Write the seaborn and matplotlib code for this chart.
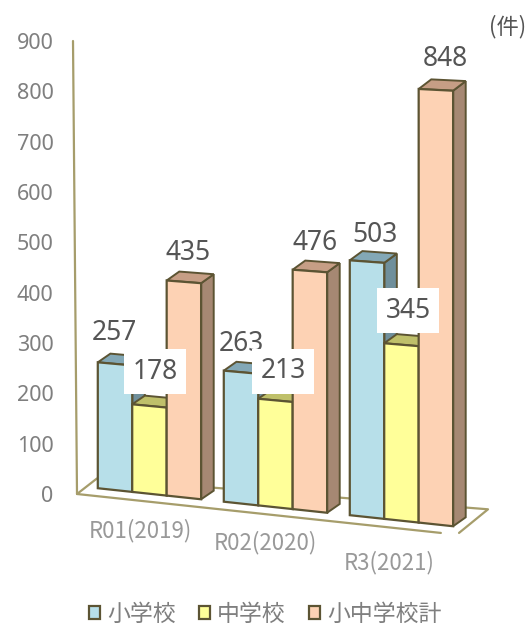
import matplotlib
matplotlib.use("Agg")
import matplotlib.pyplot as plt
import matplotlib.transforms as mtransforms
from matplotlib.patches import Polygon
import numpy as np
import pandas as pd
import seaborn as sns

years = ["R01(2019)", "R02(2020)", "R3(2021)"]
series = ["小学校", "中学校", "小中学校計"]
elementary = [257, 263, 503]
junior_high = [178, 213, 345]
total = [435, 476, 848]

front_colors = ["#b7dfe9", "#ffff99", "#fdd2b4"]
top_colors = ["#83a8b6", "#bfc06a", "#c69e85"]
side_colors = ["#6f8f9b", "#a9a95c", "#a68873"]
edge_color = "#5c5433"
floor_color = "#a69d6b"

# label offsets from the top of each bar, in pixels
label_offsets = [
    [(-1, 31), (0, 28), (8, 27)],
    [(5.5, 34), (7.5, 29), (6.5, 34)],
    [(4, 29), (5, 28), (9, 31)],
]
year_offsets = [(-9, -37), (-10, -49), (-12.5, -69)]

W, H = 529, 624
X0_PX = 77


class FloorTransform(mtransforms.Transform):
    # fake perspective: the floor runs downhill and bars get taller to the right
    input_dims = 2
    output_dims = 2

    def __init__(self, base_px, lift=0):
        super().__init__()
        self.base_px = base_px
        self.lift = lift

    def transform_non_affine(self, values):
        values = np.asarray(values, dtype=float)
        x = values[:, 0]
        y = values[:, 1] - self.base_px
        scale = (0.49 + (x - 100) * 0.0000667) / 0.5033
        new_y = self.base_px + y * scale - 0.107 * (x - X0_PX) + self.lift
        return np.column_stack([x, new_y])


sns.set_style("white")
plt.rcParams["font.family"] = ["Noto Sans CJK JP", "DejaVu Sans"]

df = pd.DataFrame({
    "year": years * 3,
    "kind": np.repeat(series, 3),
    "count": elementary + junior_high + total,
})

fig = plt.figure(figsize=(W / 100, H / 100), dpi=100)
ax = fig.add_axes([X0_PX / W, (H - 494) / H, (487 - X0_PX) / W, (494 - 41) / H])

bar_width = 0.82
sns.barplot(data=df, x="year", y="count", hue="kind", order=years, hue_order=series,
            palette=front_colors, saturation=1, width=bar_width, gap=0,
            edgecolor=edge_color, linewidth=1.6, ax=ax)

x0 = -0.575
ax.set_xlim(x0, 2.679)
ax.set_ylim(0, 900)
ax.set_xlabel("")
ax.set_ylabel("")
sns.despine(ax=ax, left=True, bottom=True)
ax.patch.set_alpha(0)

base_px = H - 494
floor_tf = ax.transData + FloorTransform(base_px)
bar_tf = ax.transData + FloorTransform(base_px, lift=8)

# depth of a bar, in data units
depth_x = 0.1
depth_y = 20

for i, container in enumerate(ax.containers):
    for j, bar in enumerate(container):
        left, w, h = bar.get_x(), bar.get_width(), bar.get_height()
        right = left + w
        z = 3 + i * 2
        bar.set_transform(bar_tf)
        bar.set_clip_on(False)
        bar.set_zorder(z + 1)
        side = Polygon([(right, 0), (right + depth_x, depth_y), (right + depth_x, h + depth_y), (right, h)],
                       facecolor=side_colors[i], edgecolor=edge_color, linewidth=1.4,
                       transform=bar_tf, zorder=z, clip_on=False)
        top = Polygon([(left, h), (left + depth_x, h + depth_y), (right + depth_x, h + depth_y), (right, h)],
                      facecolor=top_colors[i], edgecolor=edge_color, linewidth=1.4,
                      transform=bar_tf, zorder=z, clip_on=False)
        ax.add_patch(side)
        ax.add_patch(top)

        bbox = None
        if i == 1:
            bbox = dict(boxstyle="square,pad=0.32", facecolor="white", edgecolor="none")
        ax.annotate(str(int(h)), xy=(left + w / 2, h), xycoords=bar_tf,
                    xytext=label_offsets[i][j], textcoords="offset pixels",
                    ha="center", va="center", fontsize=19, color="#555555",
                    family="Noto Sans", bbox=bbox, zorder=20, annotation_clip=False)

# walls and floor
ax.plot([x0, x0 - 4 / 126], [0, 900], color=floor_color, lw=1.6, clip_on=False, zorder=1)
floor_x = [2.313, x0, -0.417, 2.687, 2.457]
floor_y = [0, 0, 36, 55.6, 3.8]
ax.plot(floor_x, floor_y, color=floor_color, lw=1.6, transform=floor_tf, clip_on=False, zorder=1)

ax.set_yticks(range(0, 1000, 100))
ax.tick_params(axis="y", length=0, pad=17, labelsize=15.5, labelcolor="#7f7f7f")
ax.tick_params(axis="x", length=0, pad=0, labelsize=16, labelcolor="#999999")
for label in ax.get_yticklabels():
    label.set_family("Noto Sans")
for label, (dx, dy) in zip(ax.get_xticklabels(), year_offsets):
    label.set_va("center")
    label.set_transform(label.get_transform() + mtransforms.Affine2D().translate(dx, dy))

sns.move_legend(ax, "center", bbox_to_anchor=(265 / W, (H - 614) / H),
                bbox_transform=fig.transFigure, ncol=3, frameon=False, title=None,
                fontsize=16.5, labelcolor="#7f7f7f", handlelength=0.5, handleheight=0.5,
                handletextpad=0.3, columnspacing=1.0, borderpad=0)

fig.text(508 / W, (H - 27) / H, "(件)", ha="center", va="center", fontsize=16, color="#555555")

fig.savefig("out.png", dpi=100)
